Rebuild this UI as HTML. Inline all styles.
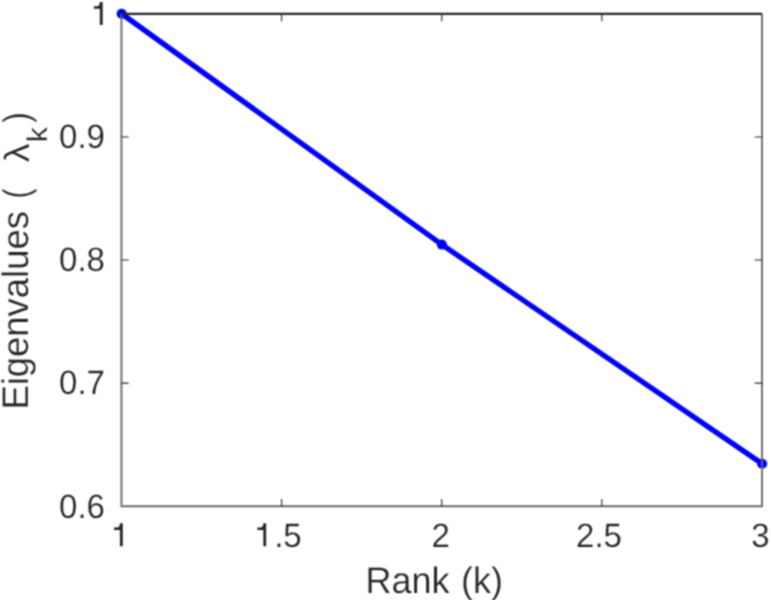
<!DOCTYPE html>
<html><head><meta charset="utf-8">
<style>
html,body{margin:0;padding:0;background:#fff;width:771px;height:600px;overflow:hidden}
svg{display:block}
text{font-family:"Liberation Sans",sans-serif;fill:#262626;text-rendering:geometricPrecision;stroke:#fff;stroke-width:0.2px}
</style></head>
<body>
<svg width="771" height="600" viewBox="0 0 771 600">
<defs><filter id="b" color-interpolation-filters="sRGB" x="0" y="0" width="771" height="600" filterUnits="userSpaceOnUse"><feConvolveMatrix order="3" kernelMatrix="1 2 1 2 4 2 1 2 1" divisor="16" edgeMode="none"/></filter></defs>
<rect width="771" height="600" fill="#fff"/>
<g filter="url(#b)">
<rect width="771" height="600" fill="#fff"/>
<polyline points="121.60,13.75 441.85,244.62 762.10,463.79" fill="none" stroke="#0000ff" stroke-width="5.3" stroke-linejoin="round"/>
<circle cx="121.60" cy="13.75" r="5" fill="#0000ff"/>
<circle cx="441.85" cy="244.62" r="5" fill="#0000ff"/>
<circle cx="762.10" cy="463.79" r="5" fill="#0000ff"/>
<g stroke="#262626" fill="none" stroke-width="1.9">
<path d="M121.45,13.90V506.25H762.05V13.90" stroke="#6a6a6a"/>
<path d="M281.60,506.25V498.95 M281.60,13.90V21.20 M441.75,506.25V498.95 M441.75,13.90V21.20 M601.90,506.25V498.95 M601.90,13.90V21.20 M121.45,383.16H128.75 M762.05,383.16H754.75 M121.45,260.07H128.75 M762.05,260.07H754.75 M121.45,136.99H128.75 M762.05,136.99H754.75" stroke-width="1.1"/>
</g>
<path d="M121.45,13.90H762.05" stroke="#262626" stroke-width="2.2"/>
<path d="M102.67,25.00V2.10H99.83C99.83,4.30 99.03,6.20 97.23,6.30H93.85V8.70H99.83V25.00Z" fill="#262626"/>
<path d="M122.77,546.20V523.30H119.93C119.93,525.50 119.13,527.40 117.33,527.50H113.95V529.90H119.93V546.20Z" fill="#262626"/>
<path d="M266.17,546.20V523.30H263.33C263.33,525.50 262.53,527.40 260.73,527.50H257.35V529.90H263.33V546.20Z" fill="#262626"/>
<text transform="translate(105.00,147.90) scale(0.978,1)" font-size="33.8" text-anchor="end">0.9</text>
<text transform="translate(105.00,270.75) scale(0.978,1)" font-size="33.8" text-anchor="end">0.8</text>
<text transform="translate(105.00,394.35) scale(0.978,1)" font-size="33.8" text-anchor="end">0.7</text>
<text transform="translate(105.00,518.00) scale(0.978,1)" font-size="33.8" text-anchor="end">0.6</text>
<text transform="translate(301.70,546.90) scale(0.978,1)" font-size="33.8" text-anchor="end">.5</text>
<text transform="translate(440.80,546.90) scale(0.978,1)" font-size="33.8" text-anchor="middle">2</text>
<text transform="translate(599.00,546.90) scale(0.978,1)" font-size="33.8" text-anchor="middle">2.5</text>
<text transform="translate(760.50,546.90) scale(0.978,1)" font-size="33.8" text-anchor="middle">3</text>
<text transform="translate(434.15,592.70) scale(0.973,1)" font-size="37" text-anchor="middle" word-spacing="1.5">Rank (k)</text>
<text transform="translate(27.80,409.50) rotate(-90) scale(0.984,1)" font-size="37">Eigenvalues</text>
<text transform="translate(29.30,198.60) rotate(-90) scale(0.8,1)" font-size="37">(</text>
<text transform="translate(29.20,162.20) rotate(-90) scale(1.07,1)" font-size="35">&#955;</text>
<text transform="translate(46.90,142.30) rotate(-90) scale(1.06,1)" font-size="28.5">k</text>
<text transform="translate(29.30,122.70) rotate(-90) scale(0.85,1)" font-size="37">)</text>
</g>
</svg>
</body></html>
